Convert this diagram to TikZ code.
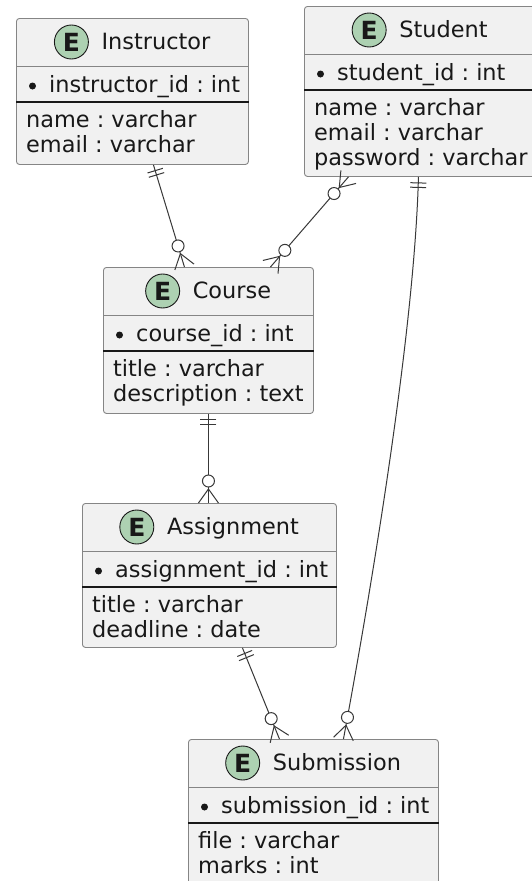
\documentclass[tikz,border=0pt]{standalone}
\usepackage{fontspec}
\setmainfont{DejaVu Sans}
\usetikzlibrary{calc}
\frenchspacing

\definecolor{boxfill}{HTML}{F1F1F1}
\definecolor{boxline}{HTML}{858585}
\definecolor{spotfill}{HTML}{ADD1B2}
\definecolor{ink}{HTML}{181818}
\definecolor{linkline}{HTML}{383838}

\tikzset{
  entbox/.style={draw=boxline, fill=boxfill, line width=0.9pt, rounded corners=3pt,
    inner sep=0pt, anchor=north west},
  enttitle/.style={font=\fontsize{22.4}{25}\selectfont, text=ink, inner sep=0pt, anchor=base},
  attr/.style={font=\fontsize{22.4}{25}\selectfont, text=ink, inner sep=0pt, anchor=base west},
  spot/.style={circle, draw=ink, fill=spotfill, line width=0.9pt, minimum size=34pt,
    inner sep=0pt, font=\fontsize{25}{25}\selectfont\bfseries, text=ink},
  keydot/.style={circle, fill=ink, minimum size=7pt, inner sep=0pt},
  headrule/.style={draw=boxline, line width=0.9pt},
  keyrule/.style={draw=ink, line width=1.1pt},
  rel/.style={draw=linkline, line width=1pt},
}

% entity frame: #1 name, #2 left, #3 top, #4 right, #5 bottom, #6 title, #7 key attribute
\newcommand\entframe[7]{%
  \node[entbox, minimum width={#4pt-#2pt}, minimum height={#5pt-#3pt}] (#1) at (#2,#3) {};
  \draw[headrule] ([yshift=-48pt]#1.north west) -- ([yshift=-48pt]#1.north east);
  \draw[keyrule] ([yshift=-84pt]#1.north west) -- ([yshift=-84pt]#1.north east);
  \node[enttitle] (#1-title) at ([xshift=23.5pt,yshift=-31pt]#1.north) {#6};
  \node[spot] (#1-spot) at ([xshift=-30pt,yshift=7pt]#1-title.base west) {E};
  \node[keydot] (#1-dot) at ([xshift=16.5pt,yshift=-68pt]#1.north west) {};
  \node[attr] (#1-key) at ([xshift=33pt,yshift=-74pt]#1.north west) {#7};
}
% plain attribute: #1 entity, #2 row number, #3 text
\newcommand\entattr[3]{%
  \node[attr] (#1-a#2) at ([xshift=10pt,yshift={-84pt-#2*25pt}]#1.north west) {#3};
}

% "exactly one" end: two bars across the line near #1, line heading to #2
\newcommand\oneend[2]{%
  \draw[rel] ($(#1)!6pt!(#2)!8pt!90:(#2)$) -- ($(#1)!6pt!(#2)!8pt!-90:(#2)$);
  \draw[rel] ($(#1)!10.5pt!(#2)!8pt!90:(#2)$) -- ($(#1)!10.5pt!(#2)!8pt!-90:(#2)$);
}
% "zero or many" end: crow's foot at #1 plus an open circle
\newcommand\manyend[2]{%
  \draw[rel] ($(#1)!10pt!90:(#2)$) -- ($(#1)!14pt!(#2)$) -- ($(#1)!10pt!-90:(#2)$);
  \draw[rel, fill=white] ($(#1)!22pt!(#2)$) circle[radius=6pt];
}

\begin{document}
\begin{tikzpicture}[x=1pt, y=-1pt]
\useasboundingbox (0,0) rectangle (532,881);
\clip (0,0) rectangle (532,881);
\fill[white] (0,0) rectangle (532,881);

% entities
\entframe{instr}{16}{18}{248}{164}{Instructor}{instructor\_id : int}
\entattr{instr}{1}{name : varchar}
\entattr{instr}{2}{email : varchar}

\entframe{student}{304}{6}{535}{176}{Student}{student\_id : int}
\entattr{student}{1}{name : varchar}
\entattr{student}{2}{email : varchar}
\entattr{student}{3}{password : varchar}

\entframe{course}{103}{267}{313}{413}{Course}{course\_id : int}
\entattr{course}{1}{title : varchar}
\entattr{course}{2}{description : text}

\entframe{assign}{82}{503}{336}{647}{Assignment}{assignment\_id : int}
\entattr{assign}{1}{title : varchar}
\entattr{assign}{2}{deadline : date}

\entframe{subm}{188}{739}{438}{886}{Submission}{submission\_id : int}
\entattr{subm}{1}{file : varchar}
\entattr{subm}{2}{marks : int}

% attachment points of the relationships
\coordinate (l1a) at ([xshift=21pt]instr.south);
\coordinate (l1b) at ([xshift=-24pt]course.north);
\coordinate (l2a) at ([xshift=-71.5pt]student.south);
\coordinate (l2b) at ([xshift=62pt]course.north);
\coordinate (l3a) at (course.south);
\coordinate (l3b) at (course.south |- assign.north);
\coordinate (l4a) at ([xshift=33pt]assign.south);
\coordinate (l4b) at ([xshift=-34pt]subm.north);
\coordinate (l5a) at ([xshift=-1.5pt]student.south);
\coordinate (l5b) at ([xshift=30pt]subm.north);
\coordinate (l5c1) at (414,350);
\coordinate (l5c2) at (360,650);

% Instructor ||--o{ Course
\draw[rel] (l1a) -- (l1b);
\oneend{l1a}{l1b}
\manyend{l1b}{l1a}

% Student }o--o{ Course
\draw[rel] (l2a) -- (l2b);
\manyend{l2a}{l2b}
\manyend{l2b}{l2a}

% Course ||--o{ Assignment
\draw[rel] (l3a) -- (l3b);
\oneend{l3a}{l3b}
\manyend{l3b}{l3a}

% Assignment ||--o{ Submission
\draw[rel] (l4a) -- (l4b);
\oneend{l4a}{l4b}
\manyend{l4b}{l4a}

% Student ||--o{ Submission
\draw[rel] (l5a) .. controls (l5c1) and (l5c2) .. (l5b);
\oneend{l5a}{l5c1}
\manyend{l5b}{l5c2}
\end{tikzpicture}
\end{document}
